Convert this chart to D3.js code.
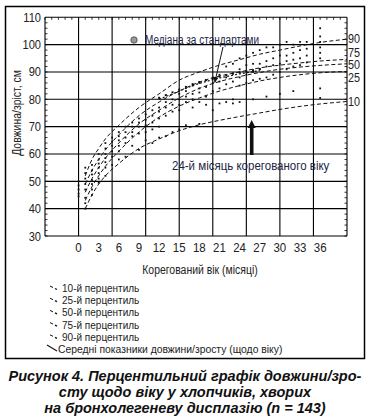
<!DOCTYPE html>
<html><head><meta charset="utf-8">
<script src="https://cdn.jsdelivr.net/npm/d3@7"></script>
<style>
body{margin:0;background:#fff;}
svg{display:block;}
text{font-family:"Liberation Sans",Arial,sans-serif;}
</style></head>
<body>
<script>
// ---- data ----
const months = [1, 2, 3, 4, 6, 9, 12, 15, 18, 21, 24, 27, 30, 33, 36, 40];
const p90 = [52, 58, 62, 65.5, 70.5, 77, 82, 87, 90, 92.5, 94.5, 96.5, 98, 99.5, 100.8, 102];
const p75 = [49, 54, 58, 61.5, 67, 74, 79, 83, 86.3, 88.5, 90, 91.5, 92.5, 93.3, 94, 94.6];
const p50 = [46, 51, 55, 58.5, 64, 71, 76, 80.5, 84, 86.5, 88.3, 89.8, 91, 91.8, 92.4, 93];
const p25 = [43, 48, 52, 55.5, 61, 68, 73.5, 77.5, 80.5, 83, 85, 86.7, 88, 89, 89.7, 90.2];
const p10 = [40, 45, 49, 52, 56.5, 62, 65.5, 68.5, 70.7, 72.3, 73.7, 75, 76.3, 77.4, 78.3, 79.2];
const percentileNames = ["90", "75", "50", "25", "10"];

const xTicks = [0, 3, 6, 9, 12, 15, 18, 21, 24, 27, 30, 33, 36];
const yTicks = [30, 40, 50, 60, 70, 80, 90, 100, 110];

// individual mean length/height values (month, cm)
const obsMonth = [0,0,0,0,0, 1,1,1,1,1,1,1,1, 2,2,2,2,2,2,2, 3,3,3,3,3,3,3, 4,4,4,4,4,4,4, 5,5,5,5,5,5,
  6,6,6,6,6,6, 7,7,7,7,7, 8,8,8,8,8, 9,9,9,9,9, 10,10,10,10,10, 11,11,11,11,11, 12,12,12,12,12,
  13,13,13,13, 14,14,14,14, 15,15,15,15,15, 16,16,16,16, 17,17,17,17, 18,18,18,18,18, 19,19,19,19,
  20,20,20,20, 21,21,21,21, 22,22,22,22, 23,23,23,23,23, 24,24,24,24,24, 25,25,25,25, 26,26,26,26,26,
  27,27,27,27, 28,28,28,28,28, 29,29,29,29, 30,30,30,30,30, 31,31,31,31, 32,32,32,32,32, 33,33,33,33,
  34,34,34,34, 36,36,36,36,36,36,36,36];
const obsLength = [50,48.5,47,45.5,44.5, 55,53,51,49,47,44,42,40, 56,54,52.5,50.5,49,47,45, 60,58,56.5,55,53,51,49.5,
  64,62,60,58.5,57,55,52, 66,64.5,63,61,59,56, 68,66.5,65,63,61,58, 70,68,66,64,59, 71.5,70,68,66.5,63,
  73,71.5,70,67.5,61.5, 74.5,72.5,70.5,68,65, 76,74,71.5,69,64, 77,75.5,73,70,66,
  79,77,74,66.5, 80,78,75.5,68, 82,80,78,76,69, 83,81,79,70.5, 85,82,80,77, 86,84,82.5,79,71, 87,84.5,81,78,
  88,86,83,76, 89,86.5,84,78.5, 92,88,85.5,79, 93,89.5,86.5,80,78.5, 95,91,88,85,79, 96,92.5,89,86, 97,93,90,87,80,
  98,93,91,87.5, 99,94,92,88,81, 99,95,92.5,89, 100,96,93,90,82, 101,96,94,91, 100,97,94.5,92,83, 101,98,95,92.5,
  101,98.5,96,93.5, 106,103,101,99,97,95,84,80.5];

// median according to standards
const stdMonth = [12, 13, 14, 15, 16, 17, 18, 19, 20, 21, 22, 23, 24, 25, 26, 27];
const stdLength = [80, 81, 82, 83, 84, 85, 85.8, 86.5, 87.2, 87.8, 88.3, 88.8, 89.3, 89.7, 90.1, 90.5];

const legendItems = ["10-й перцентиль", "25-й перцентиль", "50-й перцентиль", "75-й перцентиль", "90-й перцентиль",
  "Середні показники довжини/зросту (щодо віку)"];
const captionLines = ["Рисунок 4. Перцентильний графік довжини/зро-", "сту щодо віку у хлопчиків, хворих",
  "на бронхолегеневу дисплазію (n = 143)"];

// ---- helpers ----
function squeeze(f) {
  return function (sel) {
    sel.each(function () {
      const w = this.getComputedTextLength();
      this.setAttribute("textLength", (w * f).toFixed(2));
      this.setAttribute("lengthAdjust", "spacingAndGlyphs");
    });
  };
}

// ---- drawing ----
const W = 370, H = 417;
const svg = d3.select("body").append("svg").attr("width", W).attr("height", H);

svg.append("rect").attr("x", 5.5).attr("y", 6.5).attr("width", 359).attr("height", 352)
  .attr("fill", "none").attr("stroke", "#000").attr("stroke-width", 1.5);

const x = d3.scaleLinear().domain([-5, 40]).range([45, 347]);
const y = d3.scaleLinear().domain([30, 110]).range([236, 17.3]);

const g = svg.append("g");
// grid
g.selectAll(".vg").data(d3.range(-5, 41, 5)).join("line")
  .attr("x1", d => x(d)).attr("x2", d => x(d)).attr("y1", y(110)).attr("y2", y(30))
  .attr("stroke", "#000").attr("stroke-width", 1.1);
g.selectAll(".hg").data(yTicks).join("line")
  .attr("x1", x(-5)).attr("x2", x(40)).attr("y1", d => y(d)).attr("y2", d => y(d))
  .attr("stroke", "#000").attr("stroke-width", 1.1);
// minor ticks
g.selectAll(".ml").data(d3.range(30, 110, 2)).join("line")
  .attr("x1", x(-5)).attr("x2", x(-5) + 2.5).attr("y1", d => y(d)).attr("y2", d => y(d))
  .attr("stroke", "#000").attr("stroke-width", 0.8);
g.selectAll(".mr").data(d3.range(30, 110, 2)).join("line")
  .attr("x1", x(40)).attr("x2", x(40) - 2.5).attr("y1", d => y(d)).attr("y2", d => y(d))
  .attr("stroke", "#000").attr("stroke-width", 0.8);
g.selectAll(".mt").data(d3.range(-5, 40, 1)).join("line")
  .attr("x1", d => x(d)).attr("x2", d => x(d)).attr("y1", y(110)).attr("y2", y(110) + 2.5)
  .attr("stroke", "#000").attr("stroke-width", 0.8);

// axes labels
g.selectAll(".yt").data(yTicks).join("text")
  .attr("x", 41).attr("y", d => y(d) + 4.5).attr("text-anchor", "end")
  .attr("font-size", 13.5).attr("fill", "#222").text(d => d).call(squeeze(0.82));
g.selectAll(".xt").data(xTicks).join("text")
  .attr("x", d => x(d)).attr("y", 251.5).attr("text-anchor", "middle")
  .attr("font-size", 13.5).attr("fill", "#222").text(d => d).call(squeeze(0.85));
svg.append("text").attr("x", 200).attr("y", 274).attr("text-anchor", "middle")
  .attr("font-size", 12).attr("fill", "#222").text("Корегований вік (місяці)").call(squeeze(0.87));
svg.append("text").attr("transform", "translate(21,113) rotate(-90)").attr("text-anchor", "middle")
  .attr("font-size", 12).attr("fill", "#222").text("Довжина/зріст, см").call(squeeze(0.87));

// percentile curves
const series = [p90, p75, p50, p25, p10];
const line = d3.line().x((d, i) => x(months[i])).y(d => y(d)).curve(d3.curveMonotoneX);
g.selectAll(".pc").data(series).join("path")
  .attr("d", d => line(d)).attr("fill", "none").attr("stroke", "#111")
  .attr("stroke-width", 1).attr("stroke-dasharray", "4,2.5");

// right labels with spacing relaxation
const ends = series.map(s => y(s[s.length - 1]));
const lab = ends.slice();
for (let it = 0; it < 50; it++) {
  for (let i = 0; i < lab.length - 1; i++) {
    const gap = lab[i + 1] - lab[i];
    if (gap < 12.5) { const d = (12.5 - gap) / 2; lab[i] -= d; lab[i + 1] += d; }
  }
}
g.selectAll(".rl").data(percentileNames).join("text")
  .attr("x", 348).attr("y", (d, i) => lab[i] + 4.2).attr("font-size", 12)
  .attr("fill", "#222").text(d => d).call(squeeze(0.9));

// observations
g.selectAll(".ob").data(obsMonth).join("rect")
  .attr("x", (d, i) => x(d) - 0.9).attr("y", (d, i) => y(obsLength[i]) - 0.9)
  .attr("width", 1.8).attr("height", 1.8).attr("fill", "#111");
// median standards (dense)
const stdLine = d3.line().x((d, i) => x(stdMonth[i])).y(d => y(d)).curve(d3.curveMonotoneX);
g.append("path").attr("d", stdLine(stdLength)).attr("fill", "none").attr("stroke", "#111")
  .attr("stroke-width", 1.2).attr("stroke-dasharray", "2,2");
g.selectAll(".st").data(stdMonth).join("rect")
  .attr("x", (d) => x(d) - 1).attr("y", (d, i) => y(stdLength[i]) - 2.5)
  .attr("width", 2).attr("height", 2).attr("fill", "#111");

// annotation: median legend
svg.append("circle").attr("cx", 134).attr("cy", 40).attr("r", 3.2)
  .attr("fill", "#9a9a9a").attr("stroke", "#444").attr("stroke-width", 0.8);
svg.append("text").attr("x", 145).attr("y", 44).attr("font-size", 12.5).attr("fill", "#1c2444")
  .text("Медіана за стандартами").call(squeeze(0.8));
svg.append("defs").html('<marker id="ah" viewBox="0 0 10 10" refX="9" refY="5" markerWidth="6" markerHeight="6" orient="auto"><path d="M0,1 L10,5 L0,9 z" fill="#111"/></marker>');
svg.append("line").attr("x1", 223).attr("y1", 47).attr("x2", x(20.3)).attr("y2", y(86.2))
  .attr("stroke", "#111").attr("stroke-width", 1).attr("marker-end", "url(#ah)");

// annotation: 24th month arrow
const ax = x(25.8);
svg.append("line").attr("x1", ax).attr("x2", ax).attr("y1", 155).attr("y2", 127)
  .attr("stroke", "#111").attr("stroke-width", 3.6);
svg.append("path").attr("d", `M${ax - 4},128 L${ax},120 L${ax + 4},128 Z`).attr("fill", "#111");
svg.append("text").attr("x", 172).attr("y", 169.5).attr("font-size", 12.5).attr("fill", "#1c2444")
  .text("24-й місяць корегованого віку").call(squeeze(0.92));

// legend
const lg = svg.append("g");
legendItems.forEach((t, i) => {
  const yy = 292 + i * 12.2;
  if (i < 5) {
    lg.append("line").attr("x1", 50).attr("y1", yy - 6).attr("x2", 53).attr("y2", yy - 4.5)
      .attr("stroke", "#111").attr("stroke-width", 1);
    lg.append("line").attr("x1", 55).attr("y1", yy - 3.5).attr("x2", 57).attr("y2", yy - 2.5)
      .attr("stroke", "#111").attr("stroke-width", 1.3);
    lg.append("text").attr("x", 62).attr("y", yy).attr("font-size", 11.5).attr("fill", "#222")
      .text(t).call(squeeze(0.87));
  } else {
    lg.append("line").attr("x1", 47).attr("y1", yy - 8).attr("x2", 57).attr("y2", yy - 2)
      .attr("stroke", "#111").attr("stroke-width", 1.1);
    lg.append("text").attr("x", 58).attr("y", yy).attr("font-size", 11.5).attr("fill", "#222")
      .text(t).call(squeeze(0.9));
  }
});

// caption
svg.selectAll(".cap").data(captionLines).join("text")
  .attr("x", 185).attr("y", (d, i) => 381 + i * 16).attr("text-anchor", "middle")
  .attr("font-weight", "bold").attr("font-style", "italic").attr("font-size", 14.5)
  .attr("fill", "#111").text(d => d);
</script>
</body></html>
